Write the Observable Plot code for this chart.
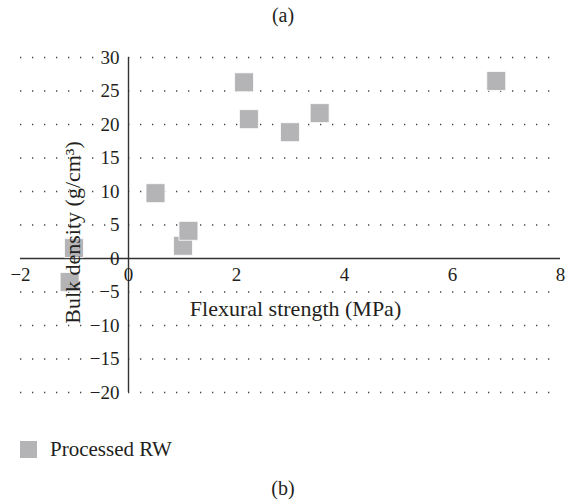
<!DOCTYPE html>
<html>
<head>
<meta charset="utf-8">
<script src="https://cdn.jsdelivr.net/npm/d3@7"></script>
<script src="https://cdn.jsdelivr.net/npm/@observablehq/plot@0.6"></script>
<style>
  html, body { margin: 0; padding: 0; background: #fff; }
  body { width: 566px; font-family: "Liberation Serif", serif; color: #231f20; }
  .cap { height: 30px; line-height: 30px; text-align: center; font-size: 20px; }
  .legend { height: 38px; display: flex; align-items: center; padding-left: 20px; font-size: 21px; }
  .legend .sw { width: 17px; height: 17px; background: #b4b4b7; margin-right: 13px; }
  .capb { height: 40px; line-height: 40px; text-align: center; font-size: 20px; }
  svg { display: block; }
</style>
</head>
<body>
<div class="cap">(a)</div>
<div id="chart"></div>
<div class="legend"><span class="sw"></span><span>Processed RW</span></div>
<div class="capb">(b)</div>
<script>
// Data
const seriesName = "Processed RW";
const flexuralStrength = [2.14, 2.23, 2.99, 3.54, 6.81, 0.50, 1.01, 1.11, -1.01, -1.09];
const bulkDensity      = [26.3, 20.8, 18.85, 21.7, 26.5, 9.75, 1.9, 4.13, 1.55, -3.5];
const xTicks = [-2, 0, 2, 4, 6, 8];
const yTicks = [30, 25, 20, 15, 10, 5, 0, -5, -10, -15, -20];
const xLabel = "Flexural strength (MPa)";
const yLabel = "Bulk density (g/cm³)";

const points = flexuralStrength.map((x, i) => ({x, y: bulkDensity[i], series: seriesName}));
const fmt = d3.format("d");
const textColor = "#231f20";

const chart = Plot.plot({
  width: 566,
  height: 400,
  marginTop: 27,
  marginBottom: 38,
  marginLeft: 20,
  marginRight: 6,
  x: {domain: [-2, 8], axis: null},
  y: {domain: [-20, 30], axis: null},
  style: {fontFamily: "Liberation Serif, serif", color: textColor, background: "white"},
  marks: [
    // dotted horizontal gridlines
    Plot.ruleY(yTicks.filter(d => d !== 0), {
      x1: -2, x2: 8, stroke: "#444", strokeWidth: 1.3,
      strokeDasharray: "1.3,10.7"
    }),
    // axis lines through the origin
    Plot.ruleY([0], {x1: -2, x2: 8, stroke: "#333", strokeWidth: 1.4}),
    Plot.ruleX([0], {y1: -20, y2: 30, stroke: "#333", strokeWidth: 1.4}),
    // y tick labels (with a white halo that masks the grid dots behind them)
    Plot.text(yTicks.filter(d => d !== 0), {
      x: () => 0, y: d => d, text: d => fmt(d),
      textAnchor: "end", dx: -9, fontSize: 19, fill: textColor,
      stroke: "white", strokeWidth: 4
    }),
    Plot.text(yTicks.filter(d => d === 0), {
      x: () => 0, y: d => d, text: d => fmt(d),
      textAnchor: "end", dx: -9, fontSize: 19, fill: textColor
    }),
    // x tick labels
    Plot.text(xTicks, {
      x: d => d, y: () => 0, text: d => fmt(d),
      dy: 16, fontSize: 19, fill: textColor
    }),
    // data
    Plot.dot(points, {
      x: "x", y: "y", symbol: "square", r: 10.7,
      fill: "#b4b4b7", stroke: "white", strokeWidth: 0.8
    }),
    // axis titles
    Plot.text([xLabel], {
      frameAnchor: "middle", text: d => d, dx: 5, dy: 83.5,
      fontSize: 22, fill: textColor
    }),
    Plot.text([yLabel], {
      frameAnchor: "middle", text: d => d, dx: -218, dy: 7.5, rotate: -90,
      fontSize: 22, fill: textColor
    })
  ]
});
document.getElementById("chart").appendChild(chart);
</script>
</body>
</html>
